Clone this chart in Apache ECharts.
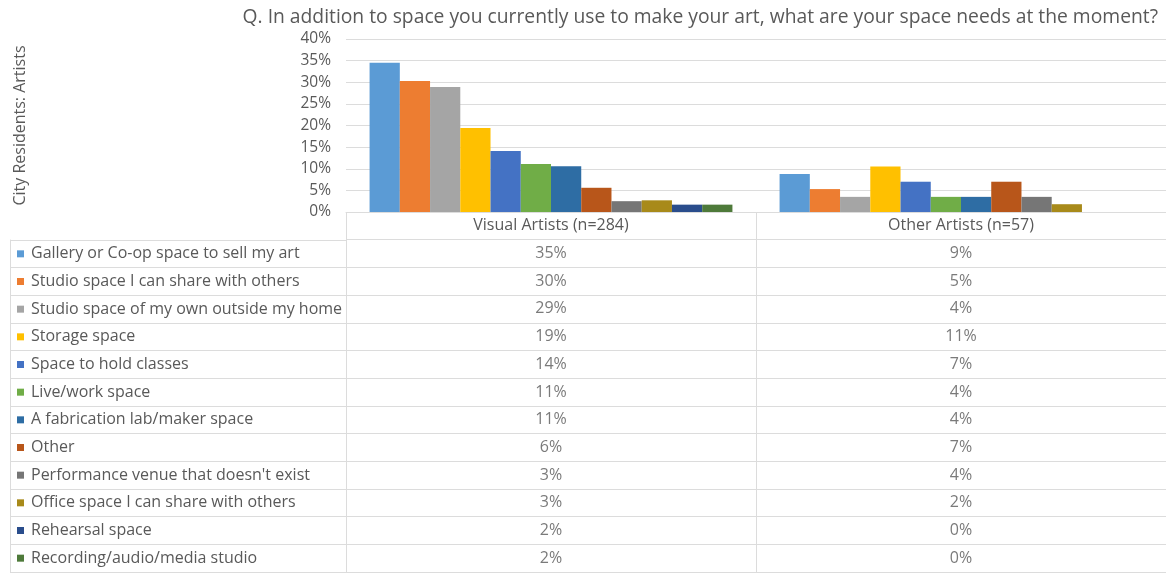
<!DOCTYPE html>
<html>
<head>
<meta charset="utf-8">
<script src="https://cdn.jsdelivr.net/npm/echarts@6/dist/echarts.min.js"></script>
<style>
  html, body { margin: 0; padding: 0; background: #fff; }
  #chart { width: 1166px; height: 573px; }
</style>
</head>
<body>
<div id="chart"></div>
<script>
const titleText = 'Q. In addition to space you currently use to make your art, what are your space needs at the moment?';
const yAxisTitle = 'City Residents: Artists';
const groups = ['Visual Artists (n=284)', 'Other Artists (n=57)'];
const needs = [
  'Gallery or Co-op space to sell my art',
  'Studio space I can share with others',
  'Studio space of my own outside my home',
  'Storage space',
  'Space to hold classes',
  'Live/work space',
  'A fabrication lab/maker space',
  'Other',
  "Performance venue that doesn't exist",
  'Office space I can share with others',
  'Rehearsal space',
  'Recording/audio/media studio'
];
// percent values per need: [Visual Artists, Other Artists]
const visualValues = [34.5, 30.3, 28.9, 19.4, 14.1, 11.1, 10.6, 5.6, 2.5, 2.7, 1.7, 1.7];
const otherValues  = [8.8, 5.3, 3.5, 10.5, 7.0, 3.5, 3.5, 7.0, 3.5, 1.8, 0, 0];
const colors = ['#5B9BD5', '#ED7D31', '#A5A5A5', '#FFC000', '#4472C4', '#70AD47',
                '#2E6DA4', '#B8561A', '#767676', '#A88A1A', '#2A4D8C', '#4E7A3A'];
const yTicks = { min: 0, max: 40, interval: 5 };

const FONT = 'Open Sans';
const TXT = '#595959';
const LINE = '#dcdcdc';

const chart = echarts.init(document.getElementById('chart'), null, { renderer: 'canvas' });

const barSeries = needs.map((n, i) => ({
  name: n,
  type: 'bar',
  xAxisIndex: 0,
  yAxisIndex: 0,
  data: [visualValues[i], otherValues[i]],
  itemStyle: { color: colors[i] },
  barGap: '0%',
  barCategoryGap: '11.5%',
  silent: true
}));

const cellData = [];
needs.forEach((n, i) => {
  cellData.push([groups[0], n, visualValues[i]]);
  cellData.push([groups[1], n, otherValues[i]]);
});

const rich = { t: { fontFamily: FONT, fontSize: 16, color: TXT, padding: [0, 0, 0, 7] } };
colors.forEach((c, i) => {
  rich['s' + i] = { width: 7, height: 7, backgroundColor: c };
});

const option = {
  animation: false,
  backgroundColor: '#ffffff',
  textStyle: { fontFamily: FONT },
  title: {
    text: titleText,
    right: 3,
    top: 3,
    textStyle: { fontFamily: FONT, fontSize: 19.3, fontWeight: 'normal', color: TXT }
  },
  grid: [
    { left: 346, right: 0, top: 39, height: 173 },
    { left: 346, right: 0, top: 212, height: 360 },
    { left: 10, width: 336, top: 240, height: 332 }
  ],
  xAxis: [
    {
      gridIndex: 0, type: 'category', data: groups,
      axisLine: { lineStyle: { color: LINE } },
      axisTick: { show: false },
      axisLabel: { fontFamily: FONT, fontSize: 16, color: TXT, margin: 5 }
    },
    {
      gridIndex: 1, type: 'category', data: groups,
      axisLine: { show: false }, axisTick: { show: false }, axisLabel: { show: false },
      splitLine: { show: true, lineStyle: { color: LINE } }
    },
    {
      gridIndex: 2, type: 'value', show: false
    }
  ],
  yAxis: [
    {
      gridIndex: 0, type: 'value', min: yTicks.min, max: yTicks.max, interval: yTicks.interval,
      name: yAxisTitle, nameLocation: 'middle', nameGap: 318, nameRotate: 90,
      nameTextStyle: { fontFamily: FONT, fontSize: 16, color: TXT },
      axisLine: { show: false }, axisTick: { show: false },
      axisLabel: { fontFamily: FONT, fontSize: 15.5, color: TXT, margin: 15, formatter: '{value}%' },
      splitLine: { lineStyle: { color: LINE } }
    },
    {
      gridIndex: 1, type: 'category', inverse: true, data: [''].concat(needs),
      axisLine: { show: false }, axisTick: { show: false }, axisLabel: { show: false },
      splitLine: { show: true, lineStyle: { color: LINE } }
    },
    {
      gridIndex: 2, type: 'category', inverse: true, data: needs,
      axisLine: { show: true, lineStyle: { color: LINE } },
      axisTick: { show: false },
      splitLine: { show: true, lineStyle: { color: LINE } },
      axisLabel: {
        inside: true, margin: 7, align: 'left',
        formatter: (v, idx) => '{s' + idx + '|}{t|' + v + '}',
        rich: rich
      }
    }
  ],
  series: barSeries.concat([{
    type: 'scatter',
    xAxisIndex: 1,
    yAxisIndex: 1,
    data: cellData,
    symbolSize: 0,
    silent: true,
    label: {
      show: true, position: 'inside',
      fontFamily: FONT, fontSize: 16, color: TXT,
      formatter: p => Math.round(p.value[2]) + '%'
    }
  }])
};
chart.setOption(option);
</script>
</body>
</html>
